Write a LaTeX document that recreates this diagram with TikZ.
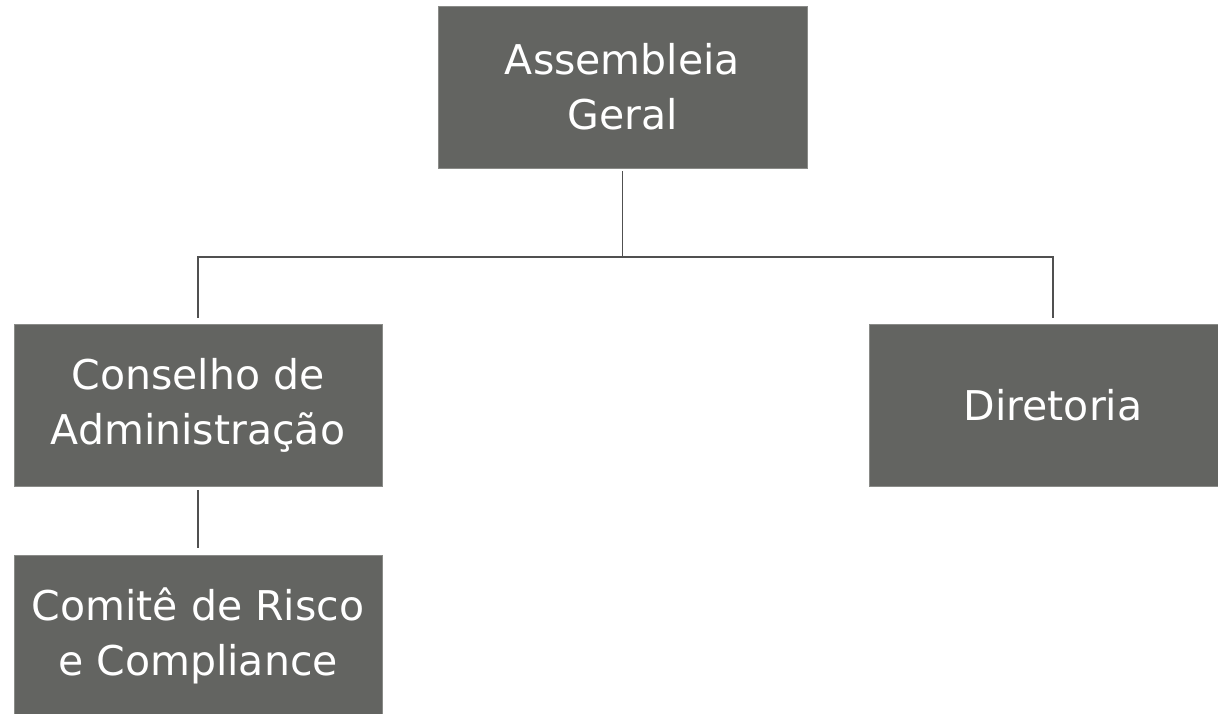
\documentclass[tikz,border=0pt]{standalone}
\usepackage{fontspec}
\setmainfont{DejaVu Sans}
\usetikzlibrary{calc}
\definecolor{boxgray}{HTML}{636461}
\definecolor{linegray}{HTML}{505050}
\begin{document}
\begin{tikzpicture}[x=1pt,y=-1pt,
  box/.style={fill=boxgray, draw=boxgray!75!white, line width=0.6pt, text=white, align=center,
    font=\fontsize{41}{55}\selectfont, inner sep=0pt, minimum width=368, minimum height=162},
  conn/.style={draw=linegray, line width=1.8pt}]
\useasboundingbox (0,0) rectangle (1218,713);
\clip (0,0) rectangle (1218,713);
\node[box, minimum width=369] (ag) at (622.5,87) {Assembleia\\Geral};
\node[box] (ca) at (198,405) {Conselho de\\Administração};
\node[box] (dir) at (1053,405) {Diretoria};
\node[box] (cr) at (198,636) {Comitê de Risco\\e Compliance};
\coordinate (bus) at (0,257);
\draw[conn] ([yshift=-3pt]ag.south) -- (ag.south |- bus);
\draw[conn] ([yshift=6pt]ca.north) -- (ca.north |- bus) -- (dir.north |- bus) -- ([yshift=6pt]dir.north);
\draw[conn] ([yshift=-4pt]ca.south) -- ([yshift=7pt]cr.north);
\end{tikzpicture}
\end{document}
